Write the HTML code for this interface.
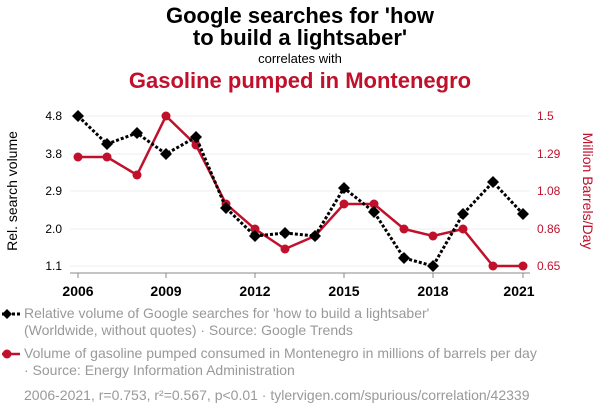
<!DOCTYPE html>
<html><head><meta charset="utf-8"><style>
body{margin:0;background:#fff;width:600px;height:414px;overflow:hidden;font-family:"Liberation Sans",sans-serif}
</style></head><body>
<svg width="600" height="414" xmlns="http://www.w3.org/2000/svg" font-family="Liberation Sans, sans-serif">
<text x="300" y="23" text-anchor="middle" font-size="22" font-weight="bold">Google searches for 'how</text>
<text x="300" y="45" text-anchor="middle" font-size="22" font-weight="bold">to build a lightsaber'</text>
<text x="300" y="63" text-anchor="middle" font-size="13">correlates with</text>
<text x="300" y="88" text-anchor="middle" font-size="22" font-weight="bold" fill="#c0102c">Gasoline pumped in Montenegro</text>
<g stroke="#eee" stroke-width="1">
<line x1="70" x2="530" y1="116" y2="116"/><line x1="70" x2="530" y1="154" y2="154"/><line x1="70" x2="530" y1="191" y2="191"/><line x1="70" x2="530" y1="229" y2="229"/><line x1="70" x2="530" y1="266" y2="266"/>
</g>
<line x1="70" x2="530" y1="273" y2="273" stroke="#888"/>
<g stroke="#888"><line x1="78" x2="78" y1="273" y2="278"/><line x1="166" x2="166" y1="273" y2="278"/><line x1="255" x2="255" y1="273" y2="278"/><line x1="344" x2="344" y1="273" y2="278"/><line x1="433" x2="433" y1="273" y2="278"/><line x1="523" x2="523" y1="273" y2="278"/></g>
<g font-size="12" text-anchor="end"><text x="62" y="120">4.8</text><text x="62" y="158">3.8</text><text x="62" y="195">2.9</text><text x="62" y="233">2.0</text><text x="62" y="270">1.1</text></g>
<g font-size="12" fill="#c0102c"><text x="537" y="120">1.5</text><text x="537" y="158">1.29</text><text x="537" y="195">1.08</text><text x="537" y="233">0.86</text><text x="537" y="270">0.65</text></g>
<g font-size="14" font-weight="bold" text-anchor="middle"><text x="78" y="296">2006</text><text x="166" y="296">2009</text><text x="255" y="296">2012</text><text x="344" y="296">2015</text><text x="433" y="296">2018</text><text x="519" y="296">2021</text></g>
<text transform="translate(17,191) rotate(-90)" text-anchor="middle" font-size="14">Rel. search volume</text>
<text transform="translate(583,191) rotate(90)" text-anchor="middle" font-size="14" fill="#c0102c">Million Barrels/Day</text>
<polyline fill="none" stroke="#c0102c" stroke-width="2.5" points="78,157 107,157 137,175 166,116 196,145 226,204 255,229 285,249 315,236 344,204 374,204 404,229 433,236 463,229 493,266 523,266"/>
<g fill="#c0102c"><circle cx="78" cy="157" r="4.5"/><circle cx="107" cy="157" r="4.5"/><circle cx="137" cy="175" r="4.5"/><circle cx="166" cy="116" r="4.5"/><circle cx="196" cy="145" r="4.5"/><circle cx="226" cy="204" r="4.5"/><circle cx="255" cy="229" r="4.5"/><circle cx="285" cy="249" r="4.5"/><circle cx="315" cy="236" r="4.5"/><circle cx="344" cy="204" r="4.5"/><circle cx="374" cy="204" r="4.5"/><circle cx="404" cy="229" r="4.5"/><circle cx="433" cy="236" r="4.5"/><circle cx="463" cy="229" r="4.5"/><circle cx="493" cy="266" r="4.5"/><circle cx="523" cy="266" r="4.5"/></g>
<polyline fill="none" stroke="#000" stroke-width="3" stroke-dasharray="3,2" points="78,116 107,144 137,133 166,154 196,137 226,208 255,236 285,233 315,236 344,188 374,212 404,258 433,266 463,214 493,182 523,214"/>
<g fill="#000">
<path d="M0,-6 L6,0 L0,6 L-6,0Z" transform="translate(78,116)"/>
<path d="M0,-6 L6,0 L0,6 L-6,0Z" transform="translate(107,144)"/>
<path d="M0,-6 L6,0 L0,6 L-6,0Z" transform="translate(137,133)"/>
<path d="M0,-6 L6,0 L0,6 L-6,0Z" transform="translate(166,154)"/>
<path d="M0,-6 L6,0 L0,6 L-6,0Z" transform="translate(196,137)"/>
<path d="M0,-6 L6,0 L0,6 L-6,0Z" transform="translate(226,208)"/>
<path d="M0,-6 L6,0 L0,6 L-6,0Z" transform="translate(255,236)"/>
<path d="M0,-6 L6,0 L0,6 L-6,0Z" transform="translate(285,233)"/>
<path d="M0,-6 L6,0 L0,6 L-6,0Z" transform="translate(315,236)"/>
<path d="M0,-6 L6,0 L0,6 L-6,0Z" transform="translate(344,188)"/>
<path d="M0,-6 L6,0 L0,6 L-6,0Z" transform="translate(374,212)"/>
<path d="M0,-6 L6,0 L0,6 L-6,0Z" transform="translate(404,258)"/>
<path d="M0,-6 L6,0 L0,6 L-6,0Z" transform="translate(433,266)"/>
<path d="M0,-6 L6,0 L0,6 L-6,0Z" transform="translate(463,214)"/>
<path d="M0,-6 L6,0 L0,6 L-6,0Z" transform="translate(493,182)"/>
<path d="M0,-6 L6,0 L0,6 L-6,0Z" transform="translate(523,214)"/>
</g>
<line x1="2" x2="20" y1="314" y2="314" stroke="#000" stroke-width="3" stroke-dasharray="3,2"/>
<path d="M7,309 L12,314 L7,319 L2,314Z" fill="#000"/>
<text x="24" y="318" font-size="14" fill="#999">Relative volume of Google searches for 'how to build a lightsaber'</text>
<text x="24" y="335" font-size="14" fill="#999">(Worldwide, without quotes) · Source: Google Trends</text>
<line x1="2" x2="20" y1="354" y2="354" stroke="#c0102c" stroke-width="2.5"/>
<circle cx="7" cy="354" r="4.5" fill="#c0102c"/>
<text x="24" y="358" font-size="14" fill="#999">Volume of gasoline pumped consumed in Montenegro in millions of barrels per day</text>
<text x="24" y="375" font-size="14" fill="#999"> · Source: Energy Information Administration</text>
<text x="24" y="400" font-size="14" fill="#999">2006-2021, r=0.753, r²=0.567, p&lt;0.01 · tylervigen.com/spurious/correlation/42339</text>
</svg>
</body></html>
